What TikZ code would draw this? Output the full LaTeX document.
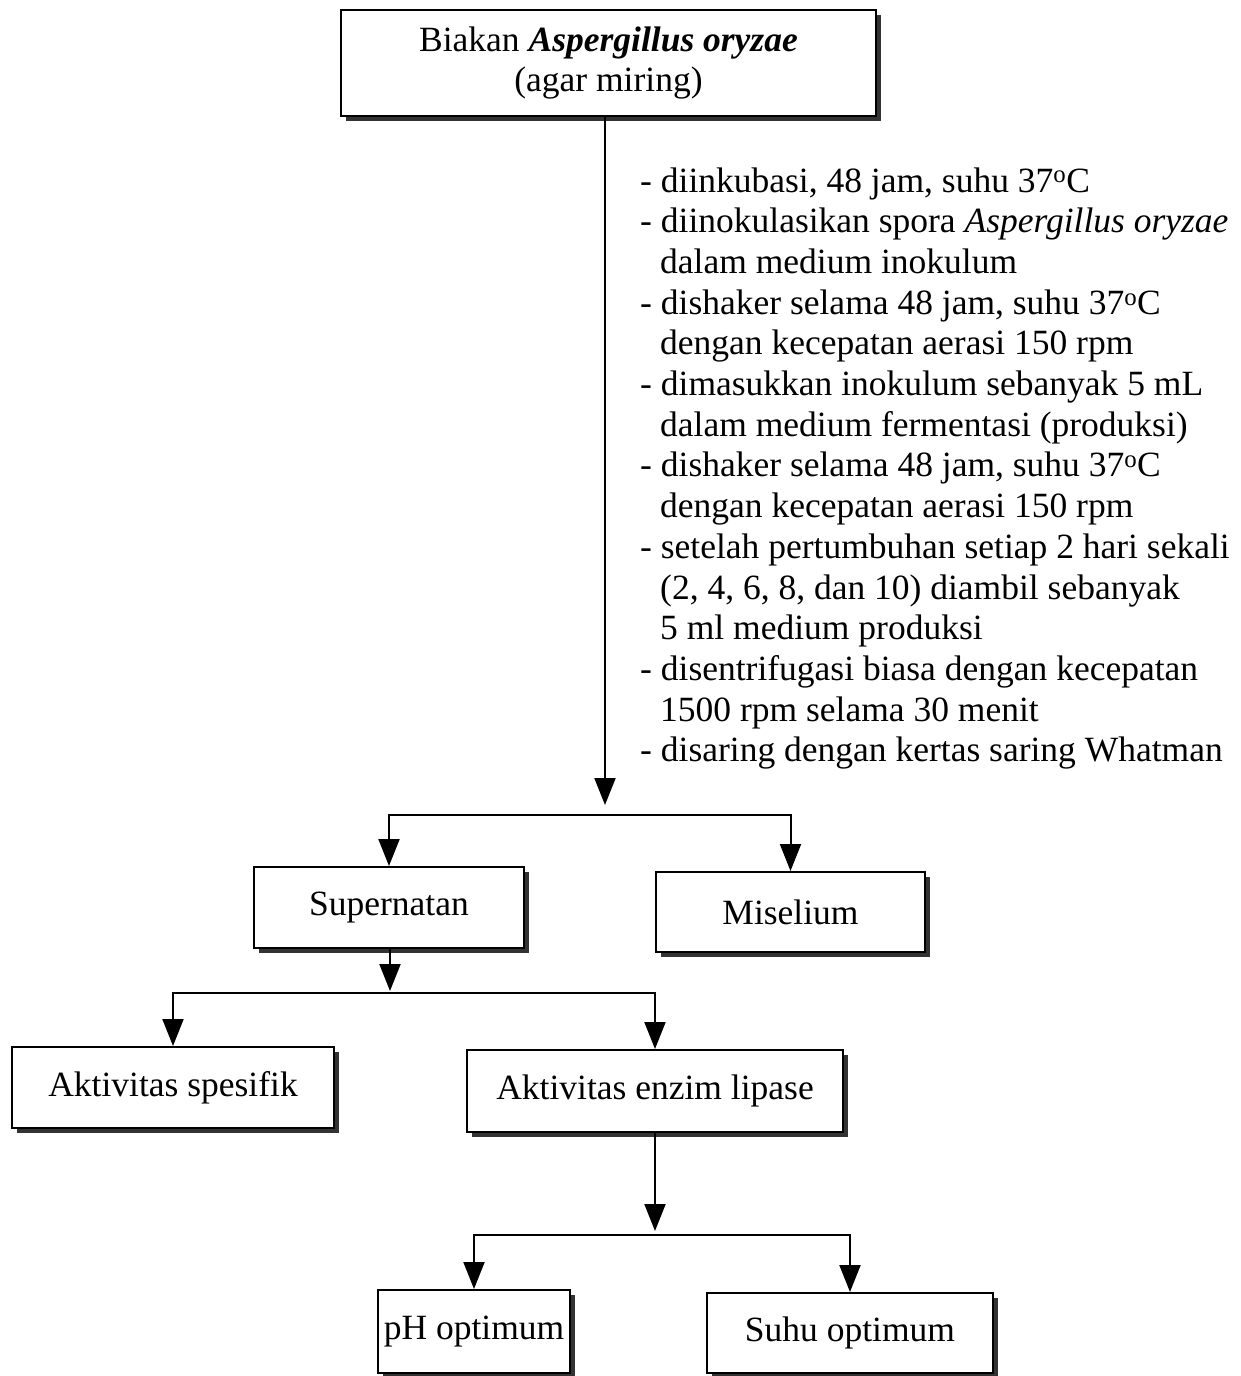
\documentclass[tikz,border=0pt]{standalone}
\usepackage{fontspec}
\setmainfont{Liberation Serif}
\usetikzlibrary{arrows.meta,shadows}
\begin{document}
\begin{tikzpicture}[x=1pt,y=-1pt,
  every node/.style={font=\fontsize{35.5}{40.7}\selectfont},
  boxnode/.style={draw=black, line width=2pt, fill=white, inner sep=0pt,
    drop shadow={shadow xshift=5pt, shadow yshift=-5pt, fill=black!80, opacity=1}},
  conn/.style={line width=2pt},
  arr/.style={conn, -{Triangle[length=27pt,width=21pt]}},
  steptext/.style={anchor=base west, inner sep=0pt}]
\useasboundingbox (0,0) rectangle (1241,1376);

% boxes
\node[boxnode, minimum width=535pt, minimum height=106pt, align=center] (top) at (608.5,63)
  {Biakan \textbf{\textit{Aspergillus oryzae}}\\[-1pt](agar miring)};
\node[boxnode, minimum width=270pt, minimum height=81pt] (sup) at (389,907.5) {Supernatan};
\node[boxnode, minimum width=269pt, minimum height=80pt] (mis) at (790.5,912) {Miselium};
\node[boxnode, minimum width=322pt, minimum height=81pt] (spes) at (173,1087.5) {Aktivitas spesifik};
\node[boxnode, minimum width=376pt, minimum height=82pt] (enz) at (655,1091) {Aktivitas enzim lipase};
\node[boxnode, minimum width=192pt, minimum height=83pt] (ph) at (474,1331.5) {pH optimum};
\node[boxnode, minimum width=286pt, minimum height=80pt] (suhu) at (850,1333) {Suhu optimum};

% step text
\node[steptext] (l1) at (640,192) {- diinkubasi, 48 jam, suhu 37\textsuperscript{o}C};
\node[steptext] (l2) at (640,232.7) {- diinokulasikan spora \textit{Aspergillus oryzae}};
\node[steptext] (l3) at (660,273.4) {dalam medium inokulum};
\node[steptext] (l4) at (640,314.1) {- dishaker selama 48 jam, suhu 37\textsuperscript{o}C};
\node[steptext] (l5) at (660,354.8) {dengan kecepatan aerasi 150 rpm};
\node[steptext] (l6) at (640,395.5) {- dimasukkan inokulum sebanyak 5 mL};
\node[steptext] (l7) at (660,436.2) {dalam medium fermentasi (produksi)};
\node[steptext] (l8) at (640,476.9) {- dishaker selama 48 jam, suhu 37\textsuperscript{o}C};
\node[steptext] (l9) at (660,517.6) {dengan kecepatan aerasi 150 rpm};
\node[steptext] (l10) at (640,558.3) {- setelah pertumbuhan setiap 2 hari sekali};
\node[steptext] (l11) at (660,599) {(2, 4, 6, 8, dan 10) diambil sebanyak};
\node[steptext] (l12) at (660,639.7) {5 ml medium produksi};
\node[steptext] (l13) at (640,680.4) {- disentrifugasi biasa dengan kecepatan};
\node[steptext] (l14) at (660,721.1) {1500 rpm selama 30 menit};
\node[steptext] (l15) at (640,761.8) {- disaring dengan kertas saring Whatman};

% coordinates
\coordinate (c1) at (605,805);
\coordinate (b1) at (605,815);
\coordinate (c2) at (390,991);
\coordinate (b2) at (390,993);
\coordinate (c3) at (655,1231);
\coordinate (b3) at (655,1235);

% connectors
\draw[arr] (top.south -| c1) -- (c1);
\draw[arr] (b1) -| (sup.north);
\draw[arr] (b1) -| (mis.north);
\draw[arr] (sup.south -| c2) -- (c2);
\draw[arr] (b2) -| (spes.north);
\draw[arr] (b2) -| (enz.north);
\draw[arr] (enz.south -| c3) -- (c3);
\draw[arr] (b3) -| (ph.north);
\draw[arr] (b3) -| (suhu.north);
\end{tikzpicture}
\end{document}
